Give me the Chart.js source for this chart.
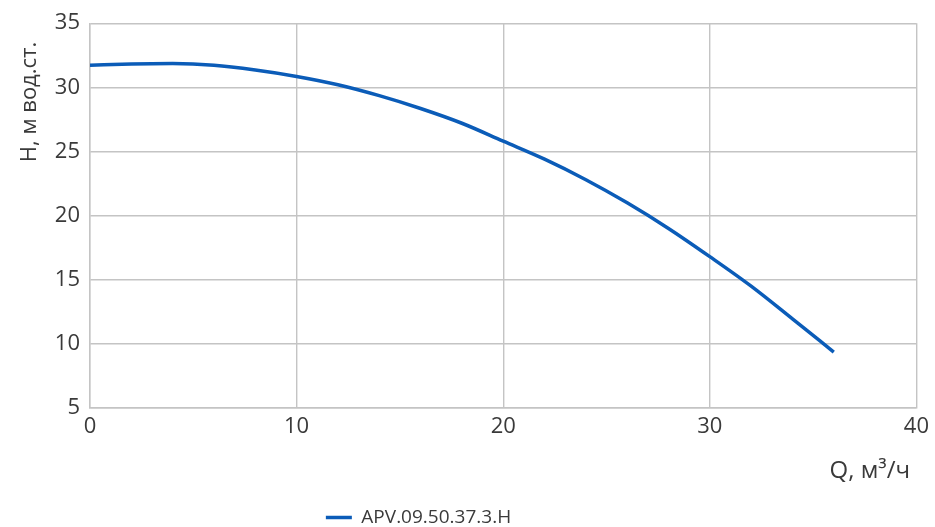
<!DOCTYPE html>
<html>
<head>
<meta charset="utf-8">
<script src="https://cdn.jsdelivr.net/npm/chart.js@4"></script>
<style>
  html, body { margin: 0; padding: 0; background: #fff; }
  #wrap { width: 935px; height: 527px; }
</style>
</head>
<body>
<div id="wrap"><canvas id="chart"></canvas></div>
<script>
// расход, м3/ч
const flow = [0, 2, 4, 6, 8, 10, 12, 14, 16, 18, 20, 22, 24, 26, 28, 30, 32, 34, 36];
// напор, м вод.ст.
const head = [31.73, 31.82, 31.85, 31.72, 31.35, 30.85, 30.2, 29.35, 28.35, 27.2, 25.8, 24.4, 22.8, 21.0, 19.0, 16.8, 14.5, 11.95, 9.36];
const seriesName = 'APV.09.50.37.3.H';
const xTicks = [0, 10, 20, 30, 40];
const yTicks = [5, 10, 15, 20, 25, 30, 35];
const yTitle = 'H, м вод.ст.';
const xTitle = 'Q, м³/ч';

const pts = flow.map((q, i) => ({ x: q, y: head[i] }));
const tickFont = { family: 'Open Sans', size: 22 };
const gridColor = '#c4c4c4';
const textColor = '#3a3a3a';

// подписи осей рисуем сами, легенду сдвигаем влево-вниз как в оригинале
const axisTitles = {
    id: 'axisTitles',
    afterUpdate(chart) {
        const lg = chart.legend;
        lg.left -= 40; lg.right -= 40;
        lg.top += 19; lg.bottom += 19;
    },
    afterDraw(chart) {
        const ctx = chart.ctx;
        ctx.save();
        ctx.fillStyle = textColor;
        ctx.textBaseline = 'middle';
        ctx.font = '24px "Open Sans"';
        ctx.textAlign = 'right';
        ctx.fillText(xTitle, 910, 471);
        ctx.translate(30, 102);
        ctx.rotate(-Math.PI / 2);
        ctx.font = '22px "Open Sans"';
        ctx.textAlign = 'center';
        ctx.fillText(yTitle, 0, 0);
        ctx.restore();
    }
};

new Chart(document.getElementById('chart'), {
    type: 'scatter',
    data: {
        datasets: [{
            label: seriesName,
            data: pts,
            showLine: true,
            borderColor: '#0b5cb8',
            backgroundColor: '#0b5cb8',
            borderWidth: 3.5,
            pointRadius: 0,
            cubicInterpolationMode: 'monotone'
        }]
    },
    options: {
        responsive: true,
        maintainAspectRatio: false,
        animation: false,
        layout: { padding: { left: 0, right: 18, top: 17, bottom: 9 } },
        plugins: {
            legend: {
                position: 'bottom',
                labels: {
                    usePointStyle: true,
                    pointStyle: 'line',
                    pointStyleWidth: 26,
                    color: textColor,
                    font: { family: 'Open Sans', size: 19 },
                    padding: 4
                }
            },
            tooltip: { enabled: false }
        },
        scales: {
            x: {
                type: 'linear',
                min: 0, max: 40,
                afterBuildTicks: ax => { ax.ticks = xTicks.map(v => ({ value: v })); },
                afterFit: ax => { ax.height = 77; },
                ticks: { color: textColor, font: tickFont, padding: 6 },
                grid: { color: gridColor, drawTicks: false, lineWidth: 1.4 },
                border: { color: gridColor, width: 1.4 }
            },
            y: {
                type: 'linear',
                min: 5, max: 35,
                afterBuildTicks: ax => { ax.ticks = yTicks.map(v => ({ value: v })); },
                afterFit: ax => { ax.width = 90; },
                ticks: { color: textColor, font: tickFont, padding: 10 },
                grid: { color: gridColor, drawTicks: false, lineWidth: 1.4 },
                border: { color: gridColor, width: 1.4 }
            }
        }
    },
    plugins: [axisTitles]
});
</script>
</body>
</html>
